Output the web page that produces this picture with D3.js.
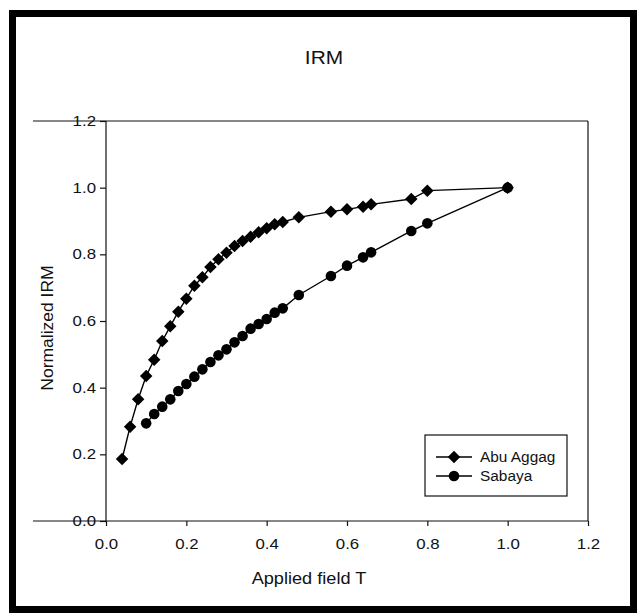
<!DOCTYPE html>
<html lang="en">
<head>
  <meta charset="UTF-8">
  <title>IRM</title>
  <script src="https://d3js.org/d3.v7.min.js"></script>
  <style>
    body { margin: 0; background: #fff; }
    text { font-family: "Liberation Sans", Arial, sans-serif; fill: #111; }
  </style>
</head>
<body>
  <svg id="chart" width="637" height="613"></svg>
  <script>
// Abu Aggag (diamonds)
const abuField = [0.04, 0.06, 0.08, 0.10, 0.12, 0.14, 0.16, 0.18, 0.20, 0.22, 0.24, 0.26, 0.28, 0.30,
  0.32, 0.34, 0.36, 0.38, 0.40, 0.42, 0.44, 0.48, 0.56, 0.60, 0.64, 0.66, 0.76, 0.80, 1.00];
const abuIRM = [0.186, 0.283, 0.365, 0.435, 0.484, 0.540, 0.584, 0.628, 0.667, 0.706, 0.731, 0.762, 0.785, 0.805,
  0.825, 0.840, 0.853, 0.866, 0.878, 0.890, 0.897, 0.911, 0.928, 0.935, 0.943, 0.950, 0.966, 0.991, 1.000];

// Sabaya (circles)
const sabField = [0.10, 0.12, 0.14, 0.16, 0.18, 0.20, 0.22, 0.24, 0.26, 0.28, 0.30, 0.32, 0.34, 0.36,
  0.38, 0.40, 0.42, 0.44, 0.48, 0.56, 0.60, 0.64, 0.66, 0.76, 0.80, 1.00];
const sabIRM = [0.293, 0.321, 0.343, 0.365, 0.390, 0.411, 0.433, 0.455, 0.477, 0.497, 0.515, 0.536, 0.555, 0.577,
  0.591, 0.606, 0.625, 0.638, 0.678, 0.735, 0.766, 0.791, 0.806, 0.870, 0.893, 1.000];

const xTicks = [0.0, 0.2, 0.4, 0.6, 0.8, 1.0, 1.2];
const yTicks = [0.0, 0.2, 0.4, 0.6, 0.8, 1.0, 1.2];

const svg = d3.select("#chart");
const plotLeft = 106, plotRight = 588, plotTop = 121, plotBottom = 521;

const x = d3.scaleLinear().domain([0, 1.2]).range([plotLeft, plotRight]);
const y = d3.scaleLinear().domain([0, 1.2]).range([plotBottom, plotTop]);

// widen text a little, the source picture is stretched sideways
function stretch(sel, k) {
  sel.each(function() {
    const w = this.getComputedTextLength();
    this.setAttribute("textLength", w * k);
    this.setAttribute("lengthAdjust", "spacingAndGlyphs");
  });
}

// outer frame
svg.append("rect")
  .attr("x", 12.5).attr("y", 13.5)
  .attr("width", 621).attr("height", 596)
  .attr("fill", "none")
  .attr("stroke", "#000")
  .attr("stroke-width", 7);

// title
svg.append("text")
  .attr("x", 324).attr("y", 64)
  .attr("text-anchor", "middle")
  .attr("font-size", "19px")
  .text("IRM")
  .call(stretch, 1.1);

// axes
const xAxis = svg.append("g")
  .attr("transform", `translate(0,${plotBottom})`)
  .call(d3.axisBottom(x).tickValues(xTicks).tickFormat(d3.format(".1f")).tickSize(5).tickPadding(13));
const yAxis = svg.append("g")
  .attr("transform", `translate(${plotLeft},0)`)
  .call(d3.axisLeft(y).tickValues(yTicks).tickFormat(d3.format(".1f")).tickSize(6).tickPadding(4));

[xAxis, yAxis].forEach(a => {
  a.select(".domain").remove();
  a.selectAll("line").attr("stroke", "#111").attr("stroke-width", 1.2);
  a.selectAll("text")
    .attr("font-size", "14.5px")
    .attr("font-family", "Liberation Sans, Arial, sans-serif")
    .attr("fill", "#111")
    .call(stretch, 1.16);
});

// frame lines (top and bottom run out past the left axis)
const frame = svg.append("g").attr("stroke", "#111").attr("stroke-width", 1.2).attr("fill", "none");
frame.append("line").attr("x1", 33).attr("x2", plotRight).attr("y1", plotTop).attr("y2", plotTop);
frame.append("line").attr("x1", 33).attr("x2", plotRight).attr("y1", plotBottom).attr("y2", plotBottom);
frame.append("line").attr("x1", plotLeft).attr("x2", plotLeft).attr("y1", plotTop).attr("y2", plotBottom);
frame.append("line").attr("x1", plotRight).attr("x2", plotRight).attr("y1", plotTop).attr("y2", plotBottom);

// axis titles
svg.append("text")
  .attr("x", 309).attr("y", 584)
  .attr("text-anchor", "middle")
  .attr("font-size", "16.5px")
  .text("Applied field T")
  .call(stretch, 1.1);

svg.append("text")
  .attr("transform", "translate(53,328) rotate(-90)")
  .attr("text-anchor", "middle")
  .attr("font-size", "16.5px")
  .text("Normalized IRM")
  .call(stretch, 1.06);

const line = d3.line().x(d => x(d[0])).y(d => y(d[1]));
const diamond = d3.symbol(d3.symbolSquare, 78);
const circle = d3.symbol(d3.symbolCircle, 88);

const series = [
  { name: "Sabaya", pts: d3.zip(sabField, sabIRM), sym: circle, rot: 0 },
  { name: "Abu Aggag", pts: d3.zip(abuField, abuIRM), sym: diamond, rot: 45 }
];

series.forEach(s => {
  svg.append("path")
    .datum(s.pts)
    .attr("d", line)
    .attr("fill", "none")
    .attr("stroke", "#000")
    .attr("stroke-width", 1.4);
  svg.append("g").selectAll("path")
    .data(s.pts)
    .join("path")
    .attr("d", s.sym)
    .attr("transform", d => `translate(${x(d[0])},${y(d[1])}) rotate(${s.rot})`)
    .attr("fill", "#000");
});

// legend
const legend = svg.append("g");
legend.append("rect")
  .attr("x", 425).attr("y", 435)
  .attr("width", 142).attr("height", 61)
  .attr("fill", "#fff")
  .attr("stroke", "#111")
  .attr("stroke-width", 1.2);

const legendRows = [series[1], series[0]];
legendRows.forEach((s, i) => {
  const ly = 457 + i * 19;
  legend.append("line")
    .attr("x1", 436).attr("x2", 472).attr("y1", ly).attr("y2", ly)
    .attr("stroke", "#000").attr("stroke-width", 1.4);
  legend.append("path")
    .attr("d", s.sym)
    .attr("transform", `translate(454,${ly}) rotate(${s.rot})`)
    .attr("fill", "#000");
  legend.append("text")
    .attr("x", 480).attr("y", ly + 5)
    .attr("font-size", "14px")
    .text(s.name)
    .call(stretch, 1.1);
});
  </script>
</body>
</html>
